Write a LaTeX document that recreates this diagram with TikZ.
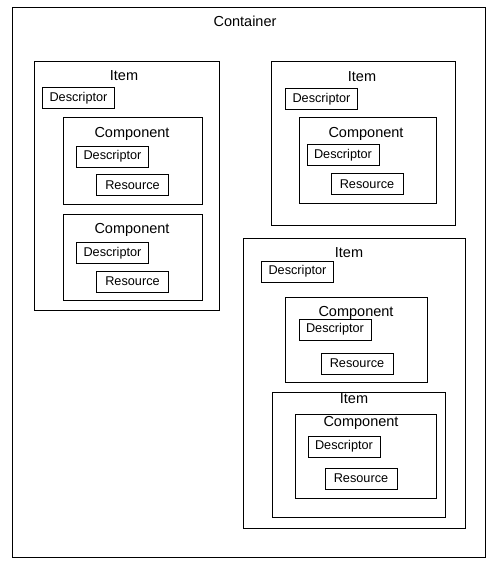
\documentclass[tikz,border=0pt]{standalone}
\usepackage{fontspec}
\setmainfont{Liberation Sans}
\usetikzlibrary{positioning}
\tikzset{
  frame/.style={draw, line width=0.8pt, inner sep=0pt, anchor=north west},
  title/.style={inner sep=0pt, text height=10pt, text depth=0pt, font=\fontsize{14.5}{16}\selectfont},
  part/.style={draw, line width=0.8pt, inner sep=0pt, minimum width=72pt, minimum height=21pt,
    font=\fontsize{12.7}{14}\selectfont},
}

\begin{document}
\begin{tikzpicture}[x=1pt,y=-1pt]
  \useasboundingbox (0,0) rectangle (488,565);
  % container
  \node[frame, minimum width=473pt, minimum height=550pt] (container) at (12,7) {};
  \node[title] (containerlbl) at (245,21) {Container};

  % left item
  \node[frame, minimum width=185pt, minimum height=249pt] (itemA) at (34,61) {};
  \node[title] (itemAlbl) at (124,75.5) {Item};
  \node[part] (descA) at (78.5,98) {Descriptor};
  \node[frame, minimum width=139pt, minimum height=87pt] (compA) at (63,117) {};
  \node[title] (compAlbl) at (132,132) {Component};
  \node[part] (descAa) at (112.5,156.5) {Descriptor};
  \node[part] (resAa) at (132.5,185) {Resource};
  \node[frame, minimum width=139pt, minimum height=86pt] (compAb) at (63,214) {};
  \node[title] (compAblbl) at (132,228) {Component};
  \node[part] (descAb) at (112.5,253) {Descriptor};
  \node[part] (resAb) at (132.5,281.5) {Resource};

  % right upper item
  \node[frame, minimum width=184pt, minimum height=164pt] (itemB) at (271,61) {};
  \node[title] (itemBlbl) at (362,76) {Item};
  \node[part] (descB) at (321.5,99) {Descriptor};
  \node[frame, minimum width=137pt, minimum height=86pt] (compB) at (299,117) {};
  \node[title] (compBlbl) at (366,132) {Component};
  \node[part] (descBa) at (343,155) {Descriptor};
  \node[part] (resBa) at (367,184) {Resource};

  % right lower item, with a nested item
  \node[frame, minimum width=222pt, minimum height=290pt] (itemC) at (243,238) {};
  \node[title] (itemClbl) at (349,252) {Item};
  \node[part] (descC) at (297.5,271.5) {Descriptor};
  \node[frame, minimum width=142pt, minimum height=85pt] (compC) at (285,297) {};
  \node[title] (compClbl) at (356,311) {Component};
  \node[part] (descCa) at (335,329.5) {Descriptor};
  \node[part] (resCa) at (357,363.5) {Resource};
  \node[frame, minimum width=173pt, minimum height=125pt] (itemD) at (272,392) {};
  \node[title] (itemDlbl) at (354,398) {Item};
  \node[frame, minimum width=141pt, minimum height=84pt] (compD) at (295,414) {};
  \node[title] (compDlbl) at (361,421) {Component};
  \node[part] (descDa) at (344,446.5) {Descriptor};
  \node[part] (resDa) at (361,478.5) {Resource};
\end{tikzpicture}
\end{document}
